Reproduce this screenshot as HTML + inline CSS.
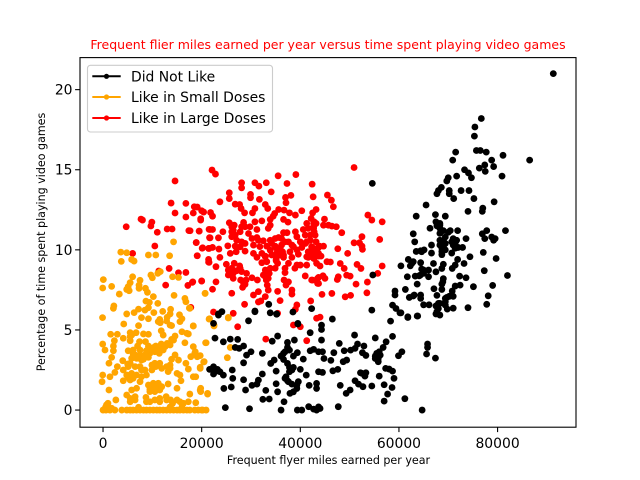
<!DOCTYPE html>
<html>
<head>
<meta charset="utf-8">
<title>Frequent flier miles versus video games</title>
<style>
html,body{margin:0;padding:0;background:#fff;}
svg{display:block;font-family:"DejaVu Sans","Liberation Sans",sans-serif;}
</style>
</head>
<body>
<svg id="chart" xmlns="http://www.w3.org/2000/svg" width="640" height="480" viewBox="0 0 640 480">
<rect x="0" y="0" width="640" height="480" fill="#fff"/>
<text x="328" y="49" font-size="12.5" fill="#ff0000" text-anchor="middle">Frequent flier miles earned per year versus time spent playing video games</text>
<g id="marks"></g>
<rect x="80" y="57.6" width="496" height="369.6" fill="none" stroke="#000" stroke-width="1.1"/>
<g id="axes"></g>
<text x="328.5" y="464" font-size="11.1" fill="#000" text-anchor="middle">Frequent flyer miles earned per year</text>
<text transform="translate(45,242) rotate(-90)" font-size="11.1" fill="#000" text-anchor="middle">Percentage of time spent playing video games</text>
<g>
<rect x="87.5" y="65.3" width="185" height="66.7" rx="3" ry="3" fill="#fff" fill-opacity="0.8" stroke="#cccccc" stroke-width="1.1"/>
<g>
<line x1="92.3" x2="120.7" y1="76.3" y2="76.3" stroke="#000000" stroke-width="2"/>
<circle cx="106.5" cy="76.3" r="2.6" fill="#000000"/>
<text x="131" y="81.3" font-size="13.9" fill="#000">Did Not Like</text>
</g>
<g>
<line x1="92.3" x2="120.7" y1="97" y2="97" stroke="#ffa500" stroke-width="2"/>
<circle cx="106.5" cy="97" r="2.6" fill="#ffa500"/>
<text x="131" y="102" font-size="13.9" fill="#000">Like in Small Doses</text>
</g>
<g>
<line x1="92.3" x2="120.7" y1="118" y2="118" stroke="#ff0000" stroke-width="2"/>
<circle cx="106.5" cy="118" r="2.6" fill="#ff0000"/>
<text x="131" y="123" font-size="13.9" fill="#000">Like in Large Doses</text>
</g>
</g>
</svg>
<script>
// Tick labels
const xTicks = [0, 20000, 40000, 60000, 80000];
const yTicks = [0, 5, 10, 15, 20];

// Points: [thousand miles per year, percent of time on video games]
const didNotLikePoints = [
[91.3,21],[86.5,15.6],[76.7,18.2],[75.4,17.67],[75.3,17.1],[75.7,16.2],[76.5,16.2],[77.7,16.1],[71.5,16.1],[70.9,15.6],[81.1,15.9],[78.8,15.6],[77.4,15.3],[79.2,15.2],[76.3,15.1],[77.5,14.9],[73.3,15],[74.1,14.8],[74.7,14.5],[80.9,14.6],[71.7,14.6],[70,14.5],[69.7,14.3],[68.6,13.9],[68,13.7],[67.7,13.5],[70.2,13.7],[72.6,13.7],[74.2,13.7],[70.2,13.5],[71.1,13.2],[75.2,13.2],[79.3,13],[65.5,12.8],[74,12.4],[77,12.6],[76.9,12.4],[67.4,12.2],[69.4,12.1],[63.5,12.1],
[67.5,11.75],[68.3,11.65],[66.3,11.35],[62.9,11],[68.3,11.34],[69,11.2],[70.4,11.2],[71.9,11.2],[76.9,11],[77.8,11.2],[77.4,10.7],[78.8,10.8],[79.5,10.7],[79.2,10.6],[81.6,11.2],[73.6,10.7],[68.3,10.6],[69.4,10.8],[71,10.7],[63.2,10.5],[66.6,10.3],[68.3,10.3],[71,10.3],[69,10.2],[72,10.15],[72.9,10.15],[63.5,9.9],[64.4,9.94],[65.1,10],[66.6,9.8],[68.7,9.9],[68.7,9.7],[70.7,9.8],[77.1,9.84],[74.4,9.57],[79.7,9.46],[61.9,9.4],[62.9,9.26],[62.3,9],[60.4,9],[64.4,9.2],[67,9.15],[71.9,9.4],[73.2,9.15],[71.4,9.05],[70.8,8.84],[69,9.1],[68.7,8.84],[67.5,8.63],[66,8.74],[64.6,8.8],[65,8.53],[77.3,8.7],[82,8.4],[61.7,8.32],[63.3,8.36],[64.1,8.38],[66,8.32],[72.3,8.36],[73.6,8.26],[69,8.2],[68.9,8],[63.7,7.86],[68.7,7.86],[72.4,7.8],[71.4,7.74],[79,7.78],[75.1,7.7],[67.1,7.57],[68.7,7.53],[61.3,7.53],[70.8,7.43],[59.2,7.43],[59.2,7.18],[67.7,7.16],[64.4,7.18],[63.1,7.18],[62.1,7.03],[71,7.1],[69.7,7.03],[78.1,7.13],[64.4,6.97],[69.4,6.76],[65,6.57],[66.1,6.57],[67.5,6.5],[68.3,6.66],[69.4,6.55],[77.8,6.6],[74,6.39],[69.8,6.3],[71,6.36],[67.7,6.14],[68.3,5.93],[58.7,6.55],[59.4,6.34],[60.4,6.07],[61.8,5.82],[63.7,5.87],
[54.6,14.15],[54.7,8.43],[54.5,6.24],[60.2,6.07],[61.8,5.78],[63.8,5.87],[58.3,5.55],[67.5,6],[46.5,5.68],[44.3,5.3],[44.3,5.03],[51,4.68],[55.2,4.5],[58.7,4.6],[65.8,4.12],[65.8,3.91],[65.6,3.5],[67.4,3.24],[57.4,4.26],[56.8,3.91],[44.3,4.37],[47.9,4.16],[51.6,4.12],[52.9,4],[51.1,3.85],[50.2,3.74],[48.9,3.7],[46.8,3.58],[44.5,3.64],[44.8,3.22],[46.2,3.1],[52.6,3.58],[53.3,3.41],[56,3.64],[55.5,3.43],[55.2,3.22],[55.8,3.02],[60.6,3.64],[59.9,3.39],[49.4,3.12],[48.7,3.02],[44.5,2.35],[46.6,2.45],[47.6,2.54],[52.2,2.33],[53.3,2.33],[53.1,2.12],[56,2.12],[57.3,2.6],[58,2.56],[58.7,2.43],[59,1.98],[51.1,1.83],[51.8,1.62],[52.7,1.46],[54.5,1.5],[48.1,1.54],[57,1.58],[58.6,1.41],[50.1,1.25],[49.3,1.04],[57.7,1],[57,0.56],[61.2,0.71],[47.7,0.21],[64.7,0],[44,0.1],
[23.4,6],[24.1,6.14],[29.5,5.57],[30.8,6.14],[33.9,6.07],[35.2,6],[22.4,5.41],[39.5,5.41],[42,4.83],[35.4,4.62],[22.7,4.49],[24.4,4.26],[25.8,4.43],[27.3,4.41],[34.3,4.3],[37.4,4.22],[38.8,4.37],[28.5,4],[26.8,3.91],[27.6,3.85],[30,3.64],[29.1,3.43],[32.3,3.54],[37.4,3.91],[36.9,3.64],[36.1,3.37],[42,3.7],[42.7,3.79],[43.7,3.64],[39.4,3.58],[38.6,3.37],[40.6,3.18],[36.6,3.16],[37.4,2.91],[34.7,3.12],[34,2.91],[28.5,2.95],[37.8,2.66],[38.6,2.66],[40,2.54],[41.2,2.18],[43.7,2.39],[22.4,2.7],[22,2.54],[23.2,2.54],[22.4,2.25],[24.4,2.18],[26.2,2.5],[35.1,2.43],[37.8,2.39],[32.3,2.25],[26.3,1.98],[28.5,1.89],[37.1,2.08],[37.4,1.83],[38.3,1.62],[39.6,1.77],[31.5,1.87],[31.2,1.62],[30.2,1.54],[35.1,1.64],[41.8,1.54],[43.3,1.66],[43.3,1.35],[24.5,1.35],[26,1.44],[28.9,1.25],[39.3,1.35],[38.6,1.14],[37.9,1.04],[33,1.23],[35.4,1.14],[32.4,0.67],[33.7,0.69],[36.7,0.52],[24.8,0.15],[29.7,0.08],[36.1,0],[39.4,0],[40.3,0],[41.7,0.21],[42.7,0.06],[43.3,0],[43.7,0.2],[21.6,2.54],
[30.8,6.18],[33.6,6.6],[38.5,6.12],[42.3,6.33],[39.5,5.37],[23.4,5.93],[35.2,5.98],
[68.3,11.03],[69,10.6],[70.7,10.5],[71.4,10.4],[69.4,10.4],[68.7,10.1],[69.4,10],[71.4,10.1],[71.7,10.6],[70,11.1],[67.7,11.5],[68.3,11.54],[64.6,9.88],[65,8.74],[64.3,8.42],[62.6,9.15],[62.9,7.12],[68,6.66],[68,6.34],[69.4,6.97],[70.2,7.1],[55.5,3.54],[55.8,3.22],[56.2,3.43],[55.2,3.37],[52.5,2.29],[37.8,3.74],[36.6,3.54],[38.3,2.5],[36.9,1.98],[37.6,1.77],[39.3,1.56],[22.7,2.39],[23.7,2.39]
];

const smallDosesPoints = [
[14.3,10.5],[3.6,9.86],[4.8,9.82],[9.2,9.68],[10.7,9.68],[13.5,9.63],[3.7,9.28],[5.8,9.4],[6.3,9.3],[11.6,8.64],[11.1,8.53],[9.7,8.43],[10,8.26],[6,8.32],[0.06,8.14],[-0.07,7.62],[1.75,7.72],[5.5,7.95],[7.5,8.1],[5.1,7.7],[4.8,7.53],[5.3,7.45],[7.3,7.8],[7.3,7.6],[8.6,7.6],[9,7.35],[3.3,7.24],[10.2,7.08],[14.1,8.32],[15.3,8.28],[14.4,7.16],[16.6,6.97],[16.8,6.76],[20.7,7.28],[17.5,6.37],[11.1,6.66],[8.7,6.8],[9.4,6.72],[2.2,6.5],[2.1,6.35],[9.2,6.39],[8.5,6.24],[7.2,6.3],[6.3,6.08],[4.8,6],[10.3,6.08],[12.1,6.16],[13.7,6.29],[13.6,6],[15.5,5.95],[-0.1,5.77],[7.8,5.77],[9.2,5.7],[11.5,5.66],[13,5.79],[16,5.7],
[4.2,5.37],[7.2,5.27],[11.6,5.45],[13.9,5.27],[15.6,5.52],[18.3,5.25],[1.55,4.73],[2.9,4.73],[5.5,4.83],[6.7,4.83],[5.5,4.58],[8.2,4.75],[9.2,4.73],[11.8,4.95],[12.2,4.68],[16,4.89],[17.3,4.75],[14.6,4.62],[13.9,4.41],[4.1,4.48],[5.5,4.33],[7.4,4.27],[7,4],[8.6,4.27],[9.2,4],[2.3,4.33],[2.1,4],[-0.07,4.12],[0.4,3.75],[2.1,3.7],[1.75,3.29],[1.2,2.92],[16.6,4.2],[20.9,4.2],[11.8,4.12],[10.7,4],[12.6,3.96],[13.6,4.06],[11.6,3.75],[10.5,3.64],[5.1,3.7],[6.1,3.5],[7.5,3.44],[8.5,3.44],[9.5,3.54],[6.8,3.23],[7.8,3.12],[5.8,3.23],[4,3.08],[5,2.87],[2.9,2.71],[2.4,2.35],[1.4,2.08],[-0.07,2.19],[-0.2,1.77],[4.1,1.83],[5.1,2.04],[5.8,2.29],[6.8,2.19],[7.8,2.5],[8.8,2.19],[9.9,2.81],[10.7,2.71],[11.9,2.6],[13.2,2.4],[13.6,2.81],[14.6,3.44],[13.9,3.17],[15.3,3.12],[16.8,2.92],[17.3,2.56],[18.3,2.08],[18.8,2.08],[19.7,2.67],[20.5,3.02],[17.8,3.33],[19.1,3.33],[18.7,3.64],[18.3,3.96],[15,2.29],[15.6,2.19],[15.8,1.83],[7.5,1.77],[10.9,1.56],[9.9,1.36],[11.5,1.36],[9.5,1.15],[10.5,1.15],[11.5,1.25],[13.2,1.63],[15,1.36],[19.8,1.36],[19.8,1.15],[21.2,1],[1.2,1.25],[2.6,0.63],[1,0.42],[5.5,0.52],[6.5,0.84],[4.8,0.94],[5.8,1.25],[6.8,1.36],[8.7,0.79],[9.5,0.52],[11.5,0.52],[12.8,0.84],[13.7,0.63],[14.1,0.42],[15.6,0.52],[17.3,0.52],[18.8,0.46],[17.6,1],
[0,0],[0.6,0],[1.4,0],[2.4,0],[3.8,0],[4.8,0],[5.5,0],[6.1,0],[6.8,0],[7.5,0],[8.2,0],[8.8,0],[9.5,0],[10.2,0],[10.9,0],[11.5,0],[12.2,0],[12.9,0],[13.6,0],[14.3,0],[15,0],[15.6,0],[16.3,0],[17,0],[17.6,0],[18.6,0],[19.3,0],[20,0],[20.9,0],[7.2,0.17],[13.6,0.2],[16,0.2],[0.5,0.17],
[20.7,7.29],[21.6,5.7],[25.4,5.75],[18.3,5.25],[22.5,5.25],[17.6,6.35],[21.5,5.68],[25.4,5.78],[22.5,5.3],[20.8,4.2],[25.8,3.91],[25.2,3.27],[20.4,3],[19.7,2.6],[21.2,1.04],[19.7,1.25],[20.2,0],[19.7,3.4],
[6.5,3.44],[7.2,3.29],[8.2,3.17],[9.2,3.29],[8.8,3.71],[9.9,3.79],[7.5,3.75],[6.1,3.75],[11,3.79],[11.4,3.54],[10.3,3.91],[13,4.16],[12.2,3.75],[14.3,4.37],[9.2,1.56],[10.2,1.67],[11.2,1.67],[11.9,1.46],[10.5,1.36],[9.5,1.3],[5.5,1.88],[6.1,1.98],[5.5,2.92],[6.5,2.71],[7.5,2.71],[8.5,2.5],[9.9,2.5],[12.9,2.71],[11.5,2.92],[10.5,2.92],[13.6,2.6],[7.8,2.08],[4.8,2.19],[4.1,2.5],[5.1,2.71],[17,4.79],[5.8,4.68],[11.2,5.52],[12.9,5.56],[13.6,5.3],[18.6,3.54],[12.9,0.63],[15,0.63],[16.3,0.42],[8.8,0.52],[10.5,0.63],[11.5,0.73],[5.5,0.73],[6.5,0.63],[0.7,0.32],[1.75,0.11]
];

const largeDosesPoints = [
[4.7,11.44],[8,11.86],[9.7,11.49],[10.5,10.24],[17.4,11.2],[19.5,11.17],[21.5,11.28],[21.6,10.76],[18.9,10.45],[20.1,10.1],[21.5,10.09],[19.1,9.63],[21.4,9.24],[6,9.78],[13.4,8.84],[15.3,8.57],[16.8,8.59],[11.3,8.68],[18.2,8],[17.2,7.78],[20,8.05],[12.7,7.8],[17.8,6.41],[19.8,11.86],
[14.6,14.3],[13.8,12.92],[16.8,12.9],[19.1,12.67],[20.4,12.36],[18.3,12.3],[7.7,11.92],[9.9,11.73],[13,11.3],[11,11.1],[14.6,12.3],[16.8,12.05],[14,11.3],
[22.1,14.98],[22.8,14.73],[35.5,14.62],[39.1,14.7],[28.1,14.19],[28.1,13.87],[30.8,14.19],[31.6,13.98],[33.1,14.19],[34.1,13.62],[37.3,14.14],[42.4,14.1],[25.6,13.56],[25.6,13.2],[29.9,13.46],[29.9,13.25],[38.1,13.4],[37,13.27],[37.1,12.94],[42.6,13.31],[23.7,13],[31.7,13.15],[32.9,12.83],[33.4,12.58],[26.8,12.85],[27.7,12.83],[28,12.58],[18.5,12.69],[20,12.44],[21.8,12.33],[22.2,12.1],[19.8,11.94],[28.7,12.31],[30.8,12.58],[30.3,12.31],[35.6,12.52],[34.8,12.27],[33.9,11.9],[36.7,12.48],[37.8,12.31],[39,12.17],[40.3,12.44],[42.5,12.31],[43.2,12.52],[42.2,11.96],[34.5,12.1],[36.6,11.9],[37.5,11.73],[32.2,11.81],[25.6,11.69],[26.6,11.54],[28.5,11.71],[28.1,11.44],[30.8,11.75],[31.2,11.27],[33.9,11.54],[33.5,11.34],[41.3,11.65],[43.2,11.65],[41.6,11.34],[40.6,11.27],[17.65,11.19],[19.5,11.17],[21.7,11.27],[22.2,11.27],[24.3,11.13],[26.4,11.23],[26.8,10.92],[29.5,11.02],[39,11.13],[36.6,11.07],[37.3,11.07],[36.2,10.71],[21.7,10.75],[23.4,10.75],[18.9,10.46],[27.1,10.6],[28.1,10.5],[28.8,10.4],[30.2,10.71],[31.2,10.77],[32.5,10.57],[33.9,10.6],[34.9,10.71],[35.6,10.77],[37.6,10.5],[39.3,10.82],[41,10.92],[42.7,10.98],[41.3,10.5],[43.2,10.5],[40,10.5],[25.3,10.25],[26.8,10.23],[20.2,10.13],[21.4,10.09],[22.2,10.15],[23.5,10.05],[30.5,10.3],[31.8,10.2],[33.2,10.23],[34.9,10.23],[35.9,10.09],[38.6,10.2],[40.3,10.15],[43.7,10.15],[25.8,9.78],[27,9.88],[28.8,9.92],[30.5,9.78],[32.2,9.78],[33.9,9.98],[35.2,9.78],[36.4,9.88],[37.9,9.88],[39.6,9.73],[41.6,9.88],[43,9.78],[19.1,9.63],[23.7,9.53],[31.2,9.53],[32.9,9.61],[36.6,9.53],[38.3,9.53],[41.6,9.53],[43.7,9.61],[21.4,9.4],[35.1,9.4],
[21.5,9.22],[22.9,8.95],[25,9.1],[26.6,9.16],[27.7,9],[25.4,8.74],[26.1,8.53],[27.1,8.7],[28.1,8.64],[29.1,8.53],[26.4,8.22],[25.4,8.43],[27.9,8.12],[29,8.12],[28.8,7.85],[28.3,7.66],[30.2,8.26],[31.3,8.12],[32.5,8.43],[33.7,8.53],[32.9,8.74],[32.2,9.2],[33.2,9.26],[32.9,9.57],[33.9,8.85],[33.1,8.12],[33.3,7.8],[33.5,7.49],[36.7,8.12],[37.6,8],[37.1,7.8],[35.1,9.32],[35.4,9.16],[34.9,8.85],[36.9,8.85],[36.9,8.58],[37.6,9.16],[38.9,8.85],[40,9.05],[41.3,9.05],[41,8.37],[42.3,8.12],[43.5,8.22],[43.5,7.91],[18.1,7.97],[20,8.06],[22.9,8],[22.2,7.54],[26.1,7.29],[35.4,7.41],[38.3,7.49],[38.3,7.24],[30.5,7.18],[31.5,7.39],[32.9,7.08],[32,6.81],[31.5,6.75],[35.9,6.83],[42.1,6.81],[28.7,6.6],[39.3,6.56],[39,6.29],[22.4,6.12],[26.4,6.04],[35.4,6.04],[43.3,5.73],[27.3,5.2],[38.6,5.31],[40,5.2],[33,4.43],[41.3,4.33],[44,5.8],
[50.9,15.14],[45.5,13.42],[46.3,13.1],[46.7,12.69],[53.7,12.17],[54.5,11.86],[56.6,11.75],[44.9,11.92],[44.7,11.54],[45.7,11.54],[46.4,11.48],[47.3,11.44],[48.4,11.07],[52.5,10.82],[50.9,10.44],[52,10.44],[52.5,10.23],[52.6,10.03],[56.1,10.65],[47.6,10.07],[49.6,9.78],[44.7,10.23],[43.9,10.23],[44.2,9.61],[45.4,9.26],[46.1,9.24],[44,8.99],[48.1,9.15],[48.9,8.84],[51.5,9.09],[52.3,8.84],[56.6,8.99],[55.7,8.53],[49.4,8.42],[50.1,8.36],[47.7,8.32],[47.5,8.15],[45,8.22],[44.6,8.38],[43.7,8.28],[42.5,8.11],[43.7,7.9],[51.3,7.86],[53.6,7.99],[53.5,7.32],[44.4,7.22],[46.4,7.28],[49.1,7.07],[50.2,7.16],[42.7,10.09],[42,10.6],[42.8,9.46],[42.7,11.44],[42.7,11.02],[42.8,11.75],[43,10],[43.4,9.78],
[26.1,11.44],[26.1,11.13],[26.1,10.82],[27.8,11.13],[28.8,11.44],[29.8,11.44],[31.5,10.6],[34.2,10.4],[35.2,10.09],[36.2,10.3],[36.9,10.5],[38.3,10.3],[35.9,9.67],[27.8,10.19],[39.3,10],[41,10.4],[42,10.6],[42,10.92],[42.3,10.19],[26.1,8.85],[26.4,8.53],[27.8,8.85],[32.9,8.33],[33.5,8.22],[33.2,8.64],[35.2,9.57],[34.2,9.68],[36.6,9.68],[41.3,9.57],[42.7,9.47],[43.3,9.16],[28.5,7.91],[39.3,9.05],[42.7,11.65],[42.7,11.34],[42.8,11.13],[43,10.92],[42.3,9.78],[43.2,10.03],[43.7,9.78]
];

const NS = 'http://www.w3.org/2000/svg';
const xMin = -4670, xMax = 95900, yMin = -1.07, yMax = 22.0;
function xScale(miles) { return 80 + (miles - xMin) / (xMax - xMin) * 496; }
function yScale(pct) { return 427.2 - (pct - yMin) / (yMax - yMin) * 369.6; }

const marks = document.getElementById('marks');
const axes = document.getElementById('axes');

function drawSeries(points, color, name) {
  points.forEach(function (p) {
    const c = document.createElementNS(NS, 'circle');
    c.setAttribute('cx', xScale(p[0] * 1000).toFixed(2));
    c.setAttribute('cy', yScale(p[1]).toFixed(2));
    c.setAttribute('r', '3.4');
    c.setAttribute('fill', color);
    
    
    marks.appendChild(c);
  });
}
drawSeries(largeDosesPoints, '#ff0000', 'point-like-in-large-doses');
drawSeries(smallDosesPoints, '#ffa500', 'point-like-in-small-doses');
drawSeries(didNotLikePoints, '#000000', 'point-did-not-like');

xTicks.forEach(function (t) {
  const x = xScale(t);
  const line = document.createElementNS(NS, 'line');
  line.setAttribute('x1', x);
  line.setAttribute('x2', x);
  line.setAttribute('y1', 427.2);
  line.setAttribute('y2', 432.1);
  line.setAttribute('stroke', '#000');
  line.setAttribute('stroke-width', '1.1');
  
  
  axes.appendChild(line);
  const label = document.createElementNS(NS, 'text');
  label.setAttribute('x', x);
  label.setAttribute('y', 448);
  label.setAttribute('font-size', '13.9');
  label.setAttribute('text-anchor', 'middle');
  label.setAttribute('fill', '#000');
  
  
  label.textContent = String(t);
  axes.appendChild(label);
});

yTicks.forEach(function (t) {
  const y = yScale(t);
  const line = document.createElementNS(NS, 'line');
  line.setAttribute('x1', 75.1);
  line.setAttribute('x2', 80);
  line.setAttribute('y1', y);
  line.setAttribute('y2', y);
  line.setAttribute('stroke', '#000');
  line.setAttribute('stroke-width', '1.1');
  
  
  axes.appendChild(line);
  const label = document.createElementNS(NS, 'text');
  label.setAttribute('x', 72.5);
  label.setAttribute('y', y + 5);
  label.setAttribute('font-size', '13.9');
  label.setAttribute('text-anchor', 'end');
  label.setAttribute('fill', '#000');
  
  
  label.textContent = String(t);
  axes.appendChild(label);
});
</script>
</body>
</html>
